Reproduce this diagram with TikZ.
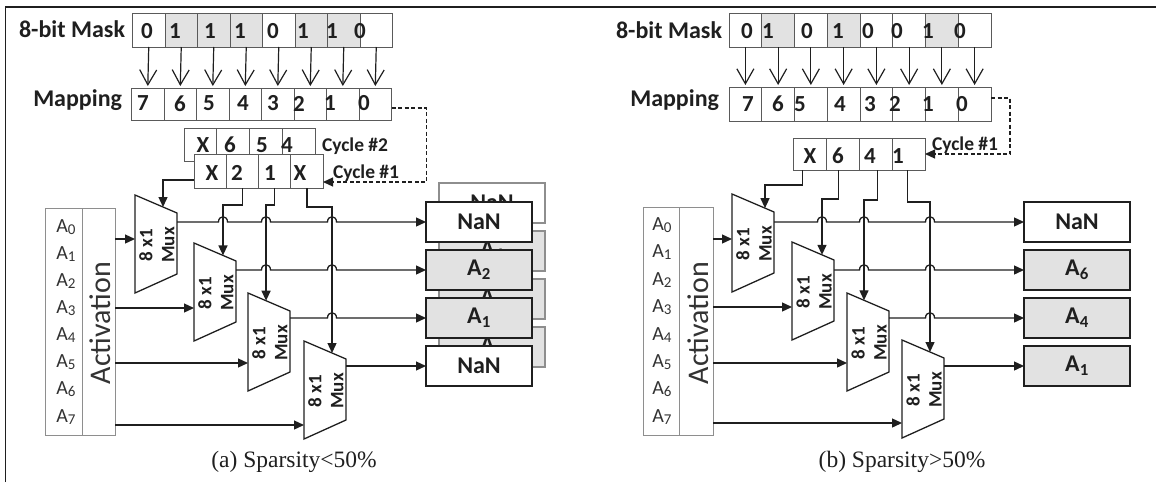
\documentclass[tikz,border=0pt]{standalone}
\usepackage{fontspec}
\setmainfont{Carlito}
\newfontfamily\captionserif{Liberation Serif}
\usetikzlibrary{arrows.meta,calc}

\definecolor{ink}{HTML}{1F1F1F}
\definecolor{cellrim}{HTML}{5A5A5A}
\definecolor{shade}{HTML}{E2E2E2}
\definecolor{rim}{HTML}{8E8E8E}
\definecolor{softink}{HTML}{333333}

% small bridge where a line jumps over a crossing wire at x=#1, y=#2
\newcommand\hop[2]{-- ({#1-4.5},#2) .. controls ({#1-4.5},{#2-7}) and ({#1+4.5},{#2-7}) .. ({#1+4.5},#2)}

% index of an activation register
\newcommand\regidx[1]{\raisebox{-0.1em}{\fontsize{15}{15}\selectfont #1}}

% 8x1 multiplexer: name, x and y of the top-left corner
\newcommand\muxat[3]{%
  \draw[muxline] (#2,#3) coordinate (#1tl) -- ({#2+42},{#3+18}) coordinate (#1tr)
    -- ({#2+42},{#3+79}) coordinate (#1br) -- (#2,{#3+98}) coordinate (#1bl) -- cycle;
  \node[muxlab] (#1) at ({#2+22},{#3+50}) {8 x1\\Mux};
}

\begin{document}
\begin{tikzpicture}[x=1pt,y=-1pt,
  every node/.style={inner sep=0pt, outer sep=0pt},
  frame/.style={draw=ink, line width=1.4pt},
  cell/.style={draw=cellrim, line width=0.9pt, anchor=north west, minimum height=34pt},
  bit/.style={font=\fontsize{23}{23}\bfseries\selectfont, text=ink},
  lab/.style={font=\fontsize{24}{24}\bfseries\selectfont, text=ink},
  cyc/.style={font=\fontsize{19.5}{19.5}\bfseries\selectfont, text=ink},
  barb/.style={draw=ink, line width=1.2pt, -{Straight Barb[length=15pt,width=17pt,line width=1.2pt]}, shorten >=2pt},
  arr/.style={draw=ink, line width=1.3pt, -{Triangle[length=10pt,width=9pt]}},
  dasharr/.style={arr, dash pattern=on 4pt off 2.5pt, line width=1.2pt},
  muxline/.style={draw=ink, line width=1.3pt},
  muxlab/.style={rotate=90, align=center, font=\fontsize{19}{22}\bfseries\selectfont, text=ink},
  actbox/.style={draw=rim, line width=1pt, anchor=north west},
  alab/.style={font=\fontsize{20}{20}\selectfont, text=softink},
  actlab/.style={rotate=90, font=\fontsize{30}{30}\selectfont, text=softink},
  outbox/.style={draw=ink, line width=1.6pt, minimum width=106pt, minimum height=40pt, font=\fontsize{24}{24}\bfseries\selectfont, text=ink},
  backbox/.style={draw=rim, line width=1.1pt, minimum width=106pt, minimum height=40pt, font=\fontsize{24}{24}\bfseries\selectfont, text=ink},
  caption/.style={font=\captionserif\fontsize{23.5}{23.5}\selectfont, text=ink},
]
\useasboundingbox (0,0) rectangle (1156,482);
\draw[frame] (5.5,482) -- (5.5,7) -- (1156,7);

%% ---------------- (a) sparsity below 50% ----------------
% mask row
\foreach \f [count=\i] in {white,shade,shade,shade,white,shade,shade,white}
  \node[cell, fill=\f, minimum width=32.5pt] (ka\i) at ({132.5+32.5*(\i-1)},13) {};
\foreach \v/\x [count=\i] in {0/147,1/175,1/210,1/240,0/273,1/303,1/332,0/360}
  \node[bit] (dka\i) at (\x,31.5) {\v};
\node[lab, anchor=base east] (maskA) at (125,37) {8-bit Mask};

% mapping row
\foreach \i in {1,...,8}
  \node[cell, minimum width=32.5pt, minimum height=32pt] (pa\i) at ({131.5+32.5*(\i-1)},88) {};
\foreach \v/\x [count=\i] in {7/143,6/180,5/209,4/243,3/273,2/299,1/330,0/364}
  \node[bit] (dpa\i) at (\x,103.5) {\v};
\node[lab, anchor=base east] (mapA) at (122,106) {Mapping};
\foreach \i in {1,...,8} \draw[barb] (ka\i.south) -- (pa\i.north);

% index groups of the two cycles
\foreach \i in {1,...,4}
  \node[cell, fill=white, minimum width=32.75pt, minimum height=33pt] (cc\i) at ({184+32.75*(\i-1)},128) {};
\foreach \v/\x [count=\i] in {X/203,6/230,5/262,4/287} \node[bit] (dcc\i) at (\x,145) {\v};
\foreach \i in {1,...,4}
  \node[cell, fill=white, minimum width=32.25pt] (ca\i) at ({194+32.25*(\i-1)},154) {};
\foreach \v/\x [count=\i] in {X/212,2/237,1/270,X/300} \node[bit] (dca\i) at (\x,173) {\v};
\node[cyc, anchor=west] (cyc2A) at (322,146) {Cycle \#2};
\node[cyc, anchor=west] (cyc1A) at (333,173) {Cycle \#1};
\draw[dasharr] ([yshift=-4pt]pa8.east) -- ++(35,0) |- ([yshift=-11pt]ca4.east);

% activation buffer
\node[actbox, minimum width=37pt, minimum height=227pt] (actLa) at (45,208) {};
\node[actbox, minimum width=33pt, minimum height=227pt] (actRa) at (82,208) {};
\foreach \i in {0,...,7} \node[alab] (aa\i) at (66,{227+27.1*\i}) {A\regidx{\i}};
\node[actlab] (actTa) at (100,323) {Activation};

% multiplexers
\muxat{mxa1}{135}{195}
\muxat{mxa2}{194}{243}
\muxat{mxa3}{248}{293}
\muxat{mxa4}{304}{341}
\coordinate (sa1) at ($(mxa1tl)!0.667!(mxa1tr)$);
\coordinate (sa2) at ($(mxa2tl)!0.69!(mxa2tr)$);
\coordinate (sa3) at ($(mxa3tl)!0.43!(mxa3tr)$);
\coordinate (sa4) at ($(mxa4tl)!0.667!(mxa4tr)$);
\coordinate (ia1) at (135,239);
\coordinate (ia2) at (194,308);
\coordinate (ia3) at (248,363);
\coordinate (ia4) at (304,425);
\foreach \i in {1,...,4} \draw[arr] (actRa.east |- ia\i) -- (ia\i);

% select lines
\draw[arr] ([yshift=-9pt]ca1.west) -| (sa1);
\draw[arr] (ca2.south) -- ++(0,17) -| (sa2);
\draw[arr] (ca3.south) -- ++(0,17) -| (sa3);
\draw[arr] (ca4.south) -- ++(0,19) -| (sa4);

% outputs: cycle #2 behind, cycle #1 in front
\node[backbox, fill=white] (ba1) at (492,203) {NaN};
\node[backbox, fill=shade] (ba2) at (492,251) {A\textsubscript{6}};
\node[backbox, fill=shade] (ba3) at (492,299) {A\textsubscript{5}};
\node[backbox, fill=shade] (ba4) at (492,347) {A\textsubscript{4}};
\node[outbox, fill=white] (fa1) at (479,222) {NaN};
\node[outbox, fill=shade] (fa2) at (479,270) {A\textsubscript{2}};
\node[outbox, fill=shade] (fa3) at (479,318) {A\textsubscript{1}};
\node[outbox, fill=white] (fa4) at (479,366) {NaN};
\draw[arr] (mxa1tr |- fa1.west) \hop{223}{222} \hop{266}{222} \hop{332}{222} -- (fa1.west);
\draw[arr] (mxa2tr |- fa2.west) \hop{266}{270} \hop{332}{270} -- (fa2.west);
\draw[arr] (mxa3tr |- fa3.west) \hop{332}{318} -- (fa3.west);
\draw[arr] (mxa4tr |- fa4.west) -- (fa4.west);

\node[caption] (capa) at (294,462) {(a) Sparsity<50\%};

%% ---------------- (b) sparsity above 50% ----------------
\foreach \f [count=\i] in {white,shade,white,shade,white,white,shade,white}
  \node[cell, fill=\f, minimum width=32.75pt] (kb\i) at ({729+32.75*(\i-1)},13) {};
\foreach \v/\x [count=\i] in {0/747,1/768,0/807,1/838,0/868,0/897,1/928,0/960}
  \node[bit] (dkb\i) at (\x,31) {\v};
\node[lab, anchor=base east] (maskB) at (722,38) {8-bit Mask};

\foreach \i in {1,...,8}
  \node[cell, minimum width=32.75pt] (pb\i) at ({729+32.75*(\i-1)},87) {};
\foreach \v/\x [count=\i] in {7/748,6/778,5/800,4/840,3/870,2/895,1/928,0/962}
  \node[bit] (dpb\i) at (\x,104) {\v};
\node[lab, anchor=base east] (mapB) at (719,106) {Mapping};
\foreach \i in {1,...,8} \draw[barb] (kb\i.south) -- (pb\i.north);

\foreach \i in {1,...,4}
  \node[cell, fill=white, minimum width=33pt, minimum height=32pt] (cb\i) at ({793+33*(\i-1)},138) {};
\foreach \v/\x [count=\i] in {X/810,6/838,4/870,1/898} \node[bit] (dcb\i) at (\x,156) {\v};
\node[cyc, anchor=west] (cyc1B) at (932,145) {Cycle \#1};
\draw[dasharr] ([yshift=6pt]pb8.east) -- ++(19,0) |- (cb4.east);

\node[actbox, minimum width=36pt, minimum height=228pt] (actLb) at (643,207) {};
\node[actbox, minimum width=34pt, minimum height=228pt] (actRb) at (679,207) {};
\foreach \i in {0,...,7} \node[alab] (ab\i) at (662,{225+27.4*\i}) {A\regidx{\i}};
\node[actlab] (actTb) at (698,323) {Activation};

\muxat{mxb1}{732}{194}
\muxat{mxb2}{792}{242}
\muxat{mxb3}{847}{293}
\muxat{mxb4}{902}{340}
\coordinate (sb1) at ($(mxb1tl)!0.786!(mxb1tr)$);
\coordinate (sb2) at ($(mxb2tl)!0.714!(mxb2tr)$);
\coordinate (sb3) at ($(mxb3tl)!0.405!(mxb3tr)$);
\coordinate (sb4) at ($(mxb4tl)!0.667!(mxb4tr)$);
\coordinate (ib1) at (732,239);
\coordinate (ib2) at (792,307);
\coordinate (ib3) at (847,363);
\coordinate (ib4) at (902,423);
\foreach \i in {1,...,4} \draw[arr] (actRb.east |- ib\i) -- (ib\i);

\draw[arr] ([xshift=-7pt]cb1.south) -- ++(0,15) -| (sb1);
\draw[arr] ([xshift=-4pt]cb2.south) -- ++(0,29) -| (sb2);
\draw[arr] ([xshift=2pt]cb3.south) -- ++(0,30) -| (sb3);
\draw[arr] ([xshift=-1pt]cb4.south) -- ++(0,32) -| (sb4);

\node[outbox, fill=white] (fb1) at (1077,222) {NaN};
\node[outbox, fill=shade] (fb2) at (1077,270) {A\textsubscript{6}};
\node[outbox, fill=shade] (fb3) at (1077,318) {A\textsubscript{4}};
\node[outbox, fill=shade] (fb4) at (1077,366) {A\textsubscript{1}};
\draw[arr] (mxb1tr |- fb1.west) \hop{822}{222} \hop{864}{222} \hop{930}{222} -- (fb1.west);
\draw[arr] (mxb2tr |- fb2.west) \hop{864}{270} \hop{930}{270} -- (fb2.west);
\draw[arr] (mxb3tr |- fb3.west) \hop{930}{318} -- (fb3.west);
\draw[arr] (mxb4tr |- fb4.west) -- (fb4.west);

\node[caption] (capb) at (902,462) {(b) Sparsity>50\%};
\end{tikzpicture}
\end{document}
